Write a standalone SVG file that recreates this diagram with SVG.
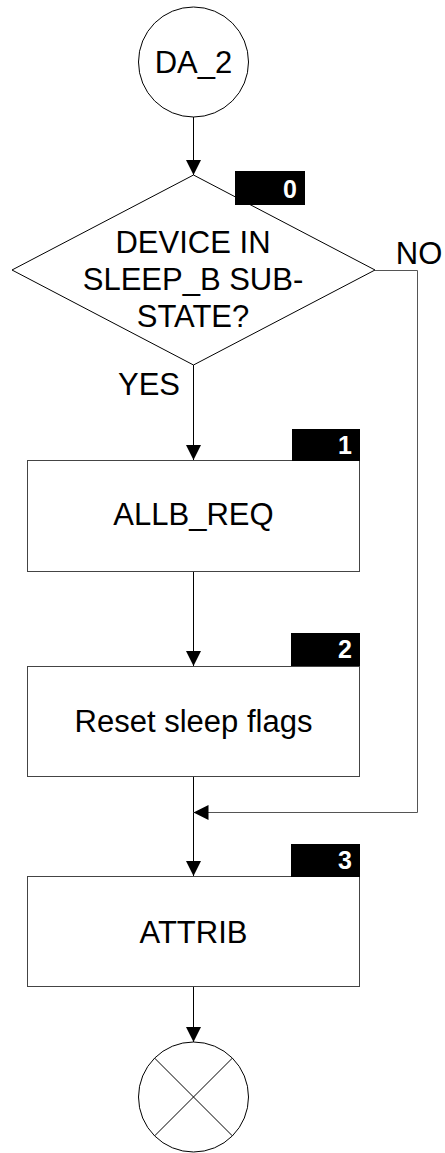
<svg xmlns="http://www.w3.org/2000/svg" width="445" height="1153" viewBox="0 0 445 1153">
<style>
.t{font-family:"Liberation Sans",Arial,sans-serif;font-size:31px;fill:#000;text-anchor:middle}
.b{font-family:"Liberation Sans",Arial,sans-serif;font-size:25px;font-weight:bold;fill:#fff;text-anchor:end}
.shape{fill:#fff;stroke:#000;stroke-width:1}
.box{fill:#fff;stroke:#444;stroke-width:1}
.badge{fill:#000}
.conn{fill:none;stroke:#000;stroke-width:1}
.gray{stroke:#555}
</style>
<defs>
<marker id="arr" markerUnits="userSpaceOnUse" markerWidth="15" markerHeight="15" refX="15" refY="7.5" orient="auto">
<path d="M0,0 L15,7.5 L0,15 z" fill="#000"/>
</marker>
</defs>
<g id="connectors">
<path class="conn" d="M193.5,117 V175" marker-end="url(#arr)"/>
<path class="conn" d="M193.5,365 V460" marker-end="url(#arr)"/>
<path class="conn" d="M193.5,571 V666" marker-end="url(#arr)"/>
<path class="conn" d="M193.5,776 V876" marker-end="url(#arr)"/>
<path class="conn gray" d="M375,270.5 H417.5 V812.5 H193.5" marker-end="url(#arr)"/>
<path class="conn" d="M193.5,987 V1042" marker-end="url(#arr)"/>
<text class="t" x="419" y="264">NO</text>
<text class="t" x="149" y="395">YES</text>
</g>
<g id="start">
<circle class="shape" cx="193.5" cy="62" r="55"/>
<text class="t" x="193.5" y="73">DA_2</text>
</g>
<g id="decision0">
<polygon class="shape" points="193.5,175 375,270 193.5,365 12,270"/>
<rect class="badge" x="235" y="171" width="70" height="34"/>
<text class="b" x="297" y="198">0</text>
<text class="t" x="193" y="253">DEVICE IN</text>
<text class="t" x="193" y="290">SLEEP_B SUB-</text>
<text class="t" x="193" y="327">STATE?</text>
</g>
<g id="step1">
<rect class="box" x="27.5" y="460.5" width="332" height="111"/>
<rect class="badge" x="292" y="429" width="68" height="32"/>
<text class="b" x="352" y="454">1</text>
<text class="t" x="193.5" y="525">ALLB_REQ</text>
</g>
<g id="step2">
<rect class="box" x="27.5" y="666.5" width="332" height="110"/>
<rect class="badge" x="291" y="633" width="69" height="33"/>
<text class="b" x="352" y="658">2</text>
<text class="t" x="193.5" y="732">Reset sleep flags</text>
</g>
<g id="step3">
<rect class="box" x="27.5" y="876.5" width="332" height="110"/>
<rect class="badge" x="291" y="844" width="69" height="33"/>
<text class="b" x="352" y="869">3</text>
<text class="t" x="193.5" y="943">ATTRIB</text>
</g>
<g id="end">
<circle class="shape" cx="193.5" cy="1097" r="55"/>
<path class="conn" d="M154.6,1058.1 L232.4,1135.9 M232.4,1058.1 L154.6,1135.9"/>
</g>
</svg>
